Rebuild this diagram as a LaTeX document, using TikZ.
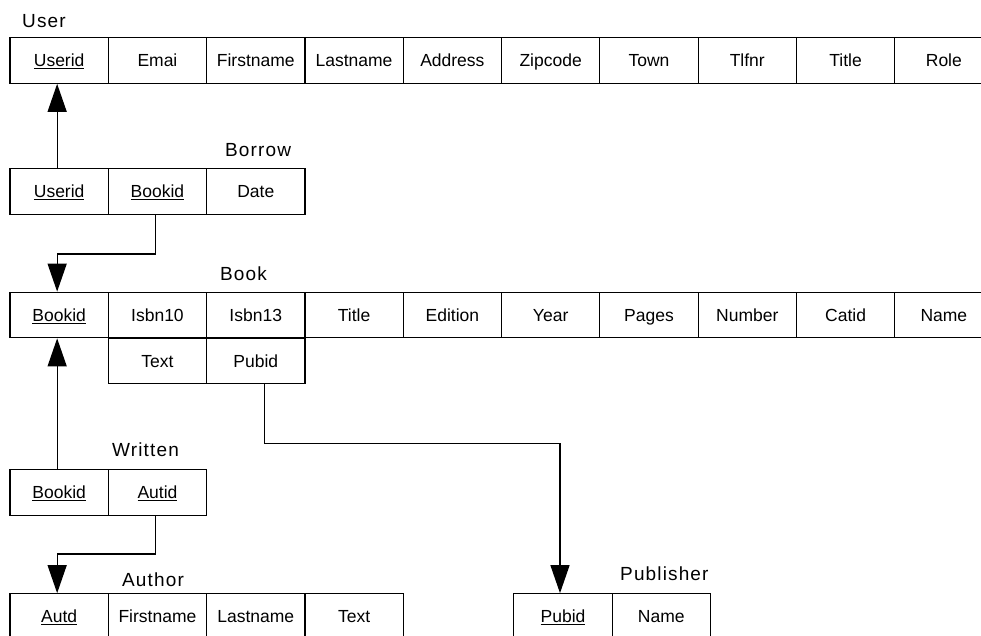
\documentclass[tikz,border=0pt]{standalone}
\usepackage{fontspec}
\setmainfont{Liberation Sans}
\usetikzlibrary{arrows.meta}
\tikzset{
  cell/.style={draw=black, line width=1.2pt, minimum width=98.3pt, minimum height=45.5pt,
    inner sep=0pt, text height=12.5pt, text depth=0pt, font=\fontsize{17.5}{20}\selectfont, text=black},
  tlabel/.style={anchor=base west, inner sep=0pt, font=\fontsize{19}{22}\selectfont\addfontfeature{LetterSpace=6}},
  arr/.style={draw=black, line width=1.3pt, -{Triangle[length=28pt,width=19pt]}},
}
\begin{document}
\begin{tikzpicture}[x=1pt,y=-1pt]
\useasboundingbox (0,0) rectangle (981,636);
\clip (0,0) rectangle (981,636);
\fill[white] (0,0) rectangle (981,636);
% User
\node[tlabel] (userlbl) at (22,28) {User};
\node[cell] (u1) at (59.15,60.5) {\underline{Userid}};
\node[cell] (u2) at (157.45,60.5) {Emai};
\node[cell] (u3) at (255.75,60.5) {Firstname};
\node[cell] (u4) at (354.05,60.5) {Lastname};
\node[cell] (u5) at (452.35,60.5) {Address};
\node[cell] (u6) at (550.65,60.5) {Zipcode};
\node[cell] (u7) at (648.95,60.5) {Town};
\node[cell] (u8) at (747.25,60.5) {Tlfnr};
\node[cell] (u9) at (845.55,60.5) {Title};
\node[cell] (u10) at (943.85,60.5) {Role};
% Borrow
\node[tlabel] (borrowlbl) at (225,157) {Borrow};
\node[cell] (b1) at (59.15,191.5) {\underline{Userid}};
\node[cell] (b2) at (157.45,191.5) {\underline{Bookid}};
\node[cell] (b3) at (255.75,191.5) {Date};
% Book
\node[tlabel] (booklbl) at (220,280) {Book};
\node[cell] (k1) at (59.15,315) {\underline{Bookid}};
\node[cell] (k2) at (157.45,315) {Isbn10};
\node[cell] (k3) at (255.75,315) {Isbn13};
\node[cell] (k4) at (354.05,315) {Title};
\node[cell] (k5) at (452.35,315) {Edition};
\node[cell] (k6) at (550.65,315) {Year};
\node[cell] (k7) at (648.95,315) {Pages};
\node[cell] (k8) at (747.25,315) {Number};
\node[cell] (k9) at (845.55,315) {Catid};
\node[cell] (k10) at (943.85,315) {Name};
\node[cell] (k11) at (157.45,361) {Text};
\node[cell] (k12) at (255.75,361) {Pubid};
% Written
\node[tlabel] (writtenlbl) at (112,456) {Written};
\node[cell] (w1) at (59.15,492.5) {\underline{Bookid}};
\node[cell] (w2) at (157.45,492.5) {\underline{Autid}};
% Author
\node[tlabel] (authorlbl) at (122,586) {Author};
\node[cell] (a1) at (59.15,616.5) {\underline{Autd}};
\node[cell] (a2) at (157.45,616.5) {Firstname};
\node[cell] (a3) at (255.75,616.5) {Lastname};
\node[cell] (a4) at (354.05,616.5) {Text};
% Publisher
\node[tlabel] (publbl) at (620,580) {Publisher};
\node[cell] (p1) at (563,616.5) {\underline{Pubid}};
\node[cell] (p2) at (661.3,616.5) {Name};
% connectors
\draw[arr] ([xshift=-2pt]b1.north) -- ([xshift=-2pt]u1.south);
\draw[arr] ([xshift=-2pt]b2.south) -- ++(0,39) -| ([xshift=-2pt]k1.north);
\draw[arr] ([xshift=-2pt]w1.north) -- ([xshift=-2pt]k1.south);
\draw[arr] ([xshift=-2pt]w2.south) -- ++(0,38) -| ([xshift=-2pt]a1.north);
\draw[arr] ([xshift=9pt]k12.south) -- ++(0,59) -| ([xshift=-3pt]p1.north);
\end{tikzpicture}
\end{document}
